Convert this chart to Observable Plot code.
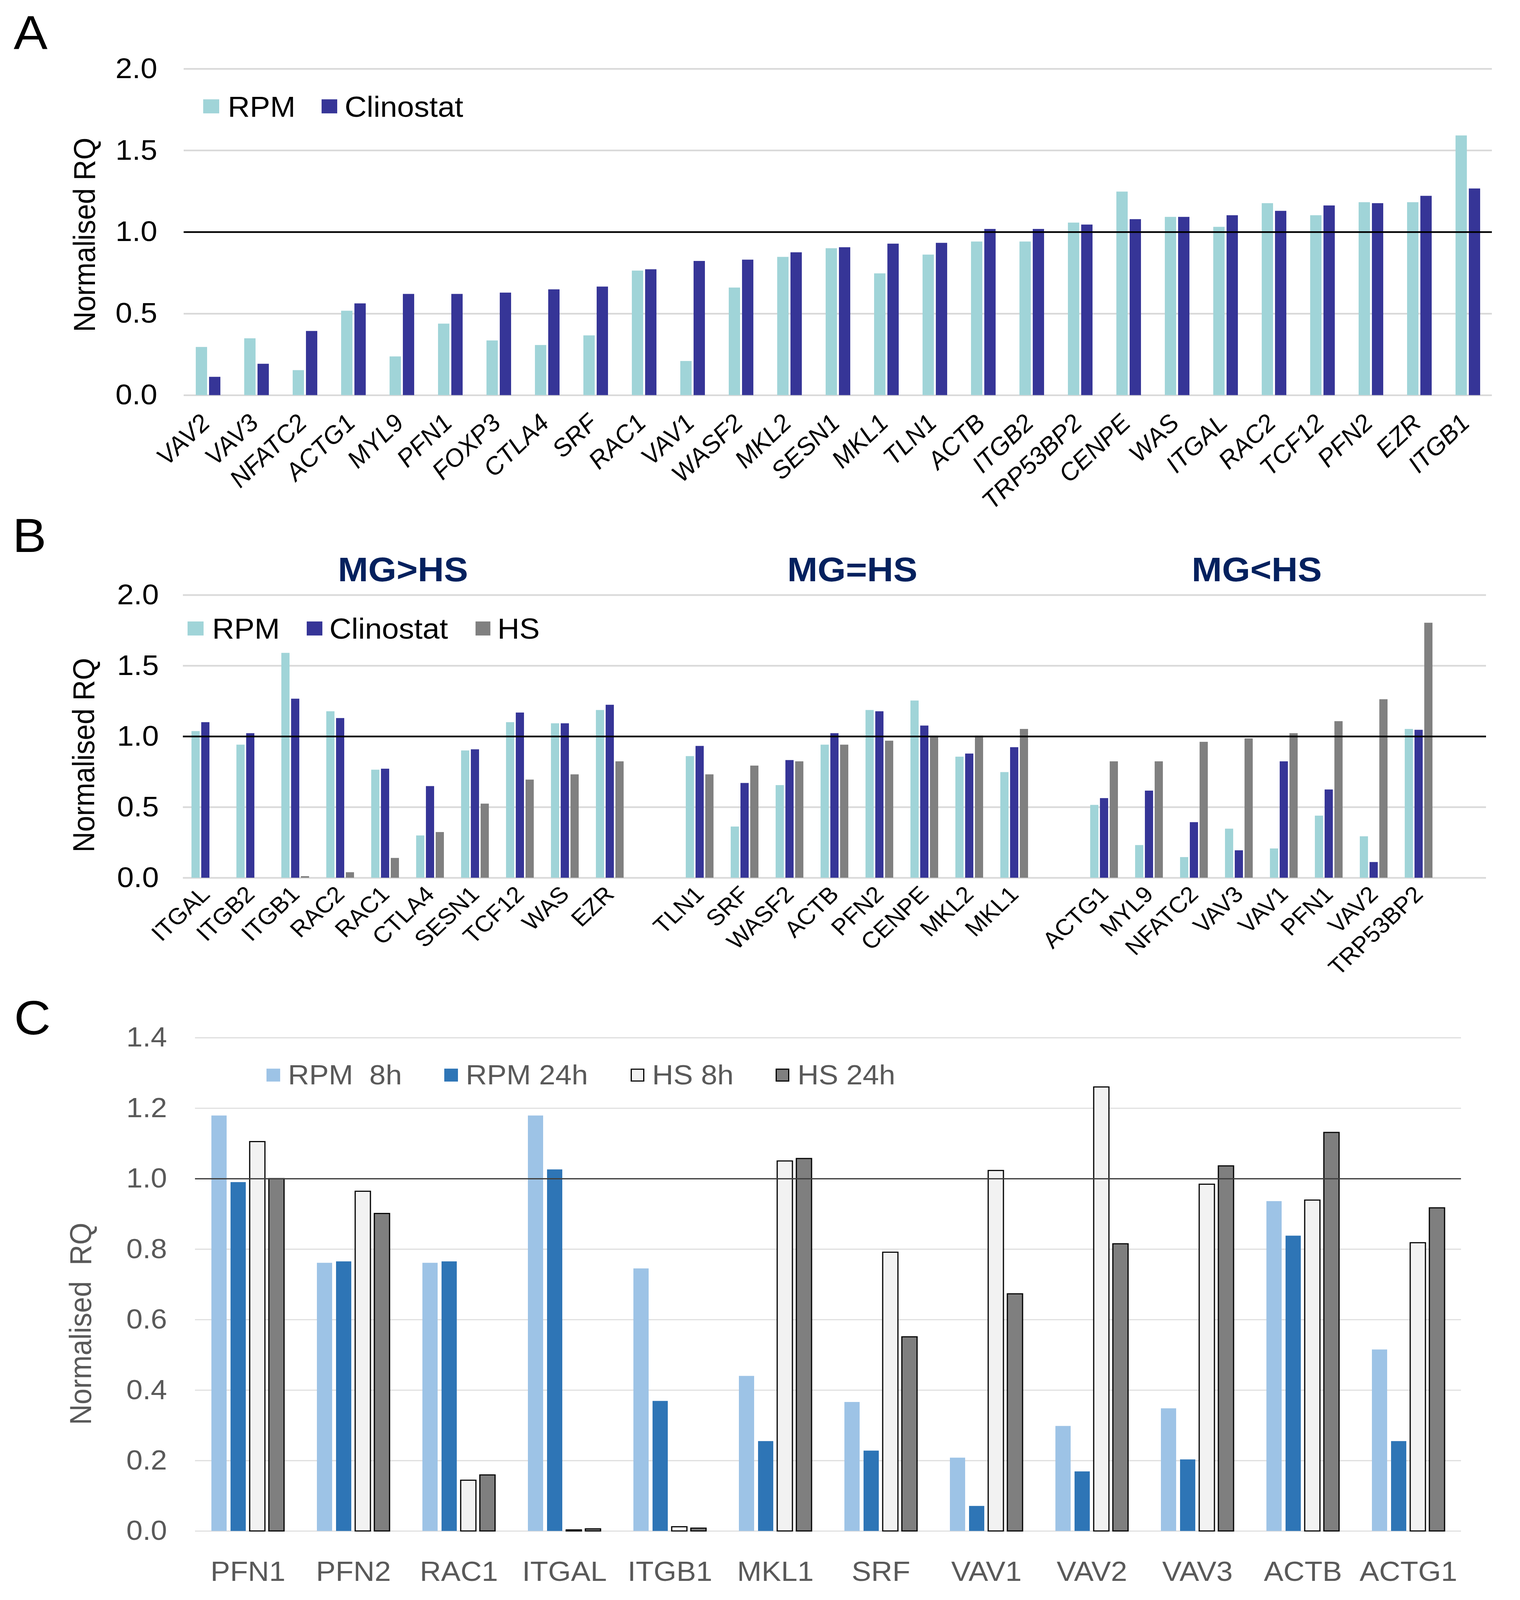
<!DOCTYPE html>
<html><head><meta charset="utf-8">
<script src="https://cdn.jsdelivr.net/npm/d3@7"></script>
<script src="https://cdn.jsdelivr.net/npm/@observablehq/plot@0.6"></script>
<style>
html,body{margin:0;padding:0;background:#fff;overflow:hidden;}
#page{position:relative;width:3890px;height:4333px;overflow:hidden;font-family:"Liberation Sans",Arial,sans-serif;background:#fff;transform-origin:0 0;}
.abs{position:absolute;white-space:nowrap;line-height:1;}
.panel{position:absolute;left:0;}
.sw{position:absolute;box-sizing:border-box;}
.italicfx g[aria-label="fx-axis tick label"]{font-style:italic;}
</style></head><body><div id="page"></div>
<script>
// ---------- Panel A data ----------
const genesA = ["VAV2","VAV3","NFATC2","ACTG1","MYL9","PFN1","FOXP3","CTLA4","SRF","RAC1","VAV1","WASF2","MKL2","SESN1","MKL1","TLN1","ACTB","ITGB2","TRP53BP2","CENPE","WAS","ITGAL","RAC2","TCF12","PFN2","EZR","ITGB1"];
const rpmA   = [0.295,0.348,0.153,0.517,0.237,0.438,0.335,0.307,0.366,0.763,0.209,0.659,0.847,0.900,0.746,0.861,0.941,0.941,1.057,1.247,1.092,1.031,1.176,1.102,1.182,1.182,1.591];
const clinoA = [0.112,0.192,0.393,0.562,0.620,0.620,0.628,0.648,0.665,0.771,0.822,0.830,0.875,0.906,0.928,0.933,1.018,1.018,1.045,1.078,1.092,1.102,1.129,1.162,1.176,1.221,1.266];
const seriesA = ["RPM","Clinostat"];
const colorsA = ["#a0d4d8","#363597"];

// ---------- Panel B data ----------
const groupTitlesB = ["MG>HS","MG=HS","MG<HS"];
const genesB1 = ["ITGAL","ITGB2","ITGB1","RAC2","RAC1","CTLA4","SESN1","TCF12","WAS","EZR"];
const rpmB1   = [1.037,0.941,1.590,1.177,0.764,0.299,0.900,1.100,1.092,1.186];
const clinoB1 = [1.100,1.022,1.266,1.129,0.771,0.648,0.908,1.168,1.092,1.223];
const hsB1    = [null,null,0.011,0.039,0.140,0.323,0.524,0.694,0.731,0.823];
const genesB2 = ["TLN1","SRF","WASF2","ACTB","PFN2","CENPE","MKL2","MKL1"];
const rpmB2   = [0.860,0.362,0.655,0.941,1.186,1.253,0.856,0.747];
const clinoB2 = [0.932,0.670,0.832,1.022,1.177,1.076,0.878,0.923];
const hsB2    = [0.731,0.793,0.823,0.941,0.969,1.005,1.005,1.052];
const genesB3 = ["ACTG1","MYL9","NFATC2","VAV3","VAV1","PFN1","VAV2","TRP53BP2"];
const rpmB3   = [0.515,0.231,0.146,0.347,0.207,0.439,0.293,1.052];
const clinoB3 = [0.563,0.616,0.393,0.194,0.823,0.624,0.111,1.046];
const hsB3    = [0.823,0.823,0.961,0.985,1.022,1.107,1.262,1.803];
const seriesB = ["RPM","Clinostat","HS"];
const colorsB = ["#a0d4d8","#363597","#808080"];

// ---------- Panel C data ----------
const genesC = ["PFN1","PFN2","RAC1","ITGAL","ITGB1","MKL1","SRF","VAV1","VAV2","VAV3","ACTB","ACTG1"];
const rpm8C  = [1.179,0.761,0.761,1.179,0.745,0.440,0.366,0.208,0.298,0.348,0.936,0.515];
const rpm24C = [0.990,0.765,0.765,1.026,0.369,0.255,0.228,0.071,0.169,0.203,0.838,0.255];
const hs8C   = [1.105,0.964,0.144,0.003,0.012,1.050,0.791,1.023,1.260,0.984,0.939,0.818];
const hs24C  = [1.000,0.901,0.159,0.006,0.008,1.057,0.551,0.673,0.815,1.036,1.131,0.917];
const seriesC = ["RPM  8h","RPM 24h","HS 8h","HS 24h"];
const colorsC = ["#9dc3e6","#2e75b6","#f2f2f2","#7f7f7f"];

const yTicksAB = [0,0.5,1.0,1.5,2.0];
const yTicksC = [0,0.2,0.4,0.6,0.8,1.0,1.2,1.4];
const refLine = 1.0;

// ---------- helpers ----------
const FONT = '"Liberation Sans", Arial, sans-serif';
const W = 3890, H = 4333;
const page = document.getElementById("page");
const fmt1 = d3.format(".1f");

// fit the full figure into the visible window height if the window is shorter
const kY = Math.min(1, (window.innerHeight || H) / H);
page.style.transform = `scale(1, ${kY})`;
document.body.style.height = (H * kY) + "px";

function addPanel(svg, top, cls) {
  const d = document.createElement("div");
  d.className = "panel" + (cls ? " " + cls : "");
  d.style.top = top + "px";
  d.appendChild(svg);
  page.appendChild(d);
}
function addText(txt, x, capCenterY, size, style = {}) {
  const d = document.createElement("div");
  d.className = "abs";
  d.textContent = txt;
  d.style.fontSize = size + "px";
  d.style.left = x + "px";
  d.style.top = (capCenterY - 0.4885 * size) + "px";
  Object.assign(d.style, style);
  page.appendChild(d);
  return d;
}
function addVText(txt, cx, cy, size, style = {}) {
  const d = document.createElement("div");
  d.className = "abs";
  d.textContent = txt;
  d.style.fontSize = size + "px";
  d.style.left = cx + "px";
  d.style.top = cy + "px";
  d.style.transform = "translate(-50%,-50%) rotate(-90deg)";
  Object.assign(d.style, style);
  page.appendChild(d);
}
function addSwatch(x, cy, w, h, fill, border) {
  const d = document.createElement("div");
  d.className = "sw";
  d.style.left = x + "px";
  d.style.top = (cy - h / 2) + "px";
  d.style.width = w + "px";
  d.style.height = h + "px";
  d.style.background = fill;
  if (border) d.style.border = border;
  page.appendChild(d);
}

// ---------- Panel A ----------
const rowsA = genesA.flatMap((g, i) => [
  {gene: g, series: seriesA[0], value: rpmA[i]},
  {gene: g, series: seriesA[1], value: clinoA[i]}
]);
const plotA = Plot.plot({
  width: W, height: 1360,
  marginLeft: 468, marginRight: 71, marginTop: 186, marginBottom: 290,
  style: {fontFamily: FONT, color: "#000", background: "transparent", overflow: "visible"},
  fx: {domain: genesA, padding: 0},
  x: {domain: seriesA, paddingInner: 0.16, paddingOuter: 0.866, axis: null},
  y: {domain: [0, 2]},
  color: {domain: seriesA, range: colorsA},
  marks: [
    Plot.gridY(yTicksAB, {stroke: "#d9d9d9", strokeOpacity: 1, strokeWidth: 4.5}),
    Plot.barY(rowsA, {fx: "gene", x: "series", y: "value", fill: "series"}),
    Plot.ruleY([refLine], {stroke: "#000", strokeWidth: 4.5}),
    Plot.axisY(yTicksAB, {tickSize: 0, tickPadding: 68, fontSize: 77, tickFormat: fmt1, label: null}),
    Plot.axisFx({anchor: "bottom", tickSize: 0, tickPadding: 64, tickRotate: -45, fontSize: 66, fontStyle: "italic", dx: -6, label: null})
  ]
});
addPanel(plotA, 0, "italicfx");

// ---------- Panel B ----------
const gapKeys = ["gap1", "gap2", "gap3"];
const groupsB = [
  {genes: genesB1, rpm: rpmB1, clino: clinoB1, hs: hsB1},
  {genes: genesB2, rpm: rpmB2, clino: clinoB2, hs: hsB2},
  {genes: genesB3, rpm: rpmB3, clino: clinoB3, hs: hsB3}
];
const slotsB = [];
const rowsB = [];
const titleRowsB = [];
groupsB.forEach((grp, gi) => {
  grp.genes.forEach((g, i) => {
    slotsB.push(g);
    [grp.rpm[i], grp.clino[i], grp.hs[i]].forEach((v, si) => {
      if (v != null) rowsB.push({gene: g, series: seriesB[si], value: v});
    });
  });
  slotsB.push(gapKeys[gi]);
  titleRowsB.push({title: groupTitlesB[gi], anchor: grp.genes[grp.genes.length / 2]});
});
const plotB = Plot.plot({
  width: W, height: 1340,
  marginLeft: 458, marginRight: 78, marginTop: 251, marginBottom: 323,
  style: {fontFamily: FONT, color: "#000", background: "transparent", overflow: "visible"},
  fx: {domain: slotsB, padding: 0},
  x: {domain: seriesB, paddingInner: 0.156, paddingOuter: 0.8, axis: null},
  y: {domain: [0, 2]},
  color: {domain: seriesB, range: colorsB},
  marks: [
    Plot.gridY(yTicksAB, {stroke: "#d9d9d9", strokeOpacity: 1, strokeWidth: 4.5}),
    Plot.barY(rowsB, {fx: "gene", x: "series", y: "value", fill: "series"}),
    Plot.ruleY(slotsB, {fx: d => d, y: () => refLine, stroke: "#000", strokeWidth: 4.5}),
    Plot.text(titleRowsB, {fx: "anchor", text: "title", frameAnchor: "top-left", textAnchor: "middle", lineAnchor: "middle", dy: -67, dx: -12, fontSize: 93, fontWeight: "bold", fill: "#04215e"}),
    Plot.axisY(yTicksAB, {tickSize: 0, tickPadding: 62, fontSize: 77, tickFormat: fmt1, label: null}),
    Plot.axisFx({anchor: "bottom", tickSize: 0, tickPadding: 34, tickRotate: -45, fontSize: 62, label: null, tickFormat: d => gapKeys.includes(d) ? "" : d})
  ]
});
addPanel(plotB, 1360);

// ---------- Panel C ----------
const rowsC = genesC.flatMap((g, i) => [
  {gene: g, series: seriesC[0], value: rpm8C[i]},
  {gene: g, series: seriesC[1], value: rpm24C[i]},
  {gene: g, series: seriesC[2], value: hs8C[i]},
  {gene: g, series: seriesC[3], value: hs24C[i]}
]);
const plotC = Plot.plot({
  width: W, height: 1633,
  marginLeft: 494, marginRight: 147, marginTop: 110, marginBottom: 187,
  style: {fontFamily: FONT, color: "#595959", background: "transparent", overflow: "visible"},
  fx: {domain: genesC, padding: 0},
  x: {domain: seriesC, paddingInner: 0.203, paddingOuter: 0.85, axis: null},
  y: {domain: [0, 1.4]},
  color: {domain: seriesC, range: colorsC},
  marks: [
    Plot.gridY(yTicksC, {stroke: "#dedede", strokeOpacity: 1, strokeWidth: 3}),
    Plot.barY(rowsC.filter(d => d.series.startsWith("RPM")), {fx: "gene", x: "series", y: "value", fill: "series"}),
    Plot.barY(rowsC.filter(d => d.series.startsWith("HS")), {fx: "gene", x: "series", y: "value", fill: "series", stroke: "#000", strokeWidth: 3}),
    Plot.ruleY([refLine], {stroke: "#404040", strokeWidth: 3.5}),
    Plot.axisY(yTicksC, {tickSize: 0, tickPadding: 72, fontSize: 75, tickFormat: fmt1, label: null, fill: "#595959"}),
    Plot.axisFx({anchor: "bottom", tickSize: 0, tickPadding: 81, fontSize: 75, label: null, fill: "#595959"})
  ]
});
addPanel(plotC, 2700);

// ---------- Panel letters ----------
addText("A", 35, 87, 130);
addText("B", 32, 1449, 130);
addText("C", 36, 2755, 130);

// ---------- Y titles ----------
addVText("Normalised RQ", 216, 636, 77);
addVText("Normalised RQ", 214, 2045, 77);
addVText("Normalised  RQ", 206, 3585, 77, {color: "#595959", whiteSpace: "pre"});

// ---------- Legends ----------
addSwatch(520, 288, 41, 38, colorsA[0]);
addText(seriesA[0], 583, 288, 78);
addSwatch(823, 288, 40, 38, colorsA[1]);
addText(seriesA[1], 882, 288, 78);

addSwatch(480, 1702, 41, 38, colorsB[0]);
addText(seriesB[0], 543, 1702, 78);
addSwatch(785, 1702, 40, 38, colorsB[1]);
addText(seriesB[1], 843, 1702, 78);
addSwatch(1217, 1702, 38, 38, colorsB[2]);
addText(seriesB[2], 1273, 1702, 78);

const legC = [[682, 737], [1137, 1192], [1614, 1669], [1985, 2041]];
seriesC.forEach((s, i) => {
  addSwatch(legC[i][0], 2911, 35, 35, colorsC[i], i >= 2 ? "3px solid #000" : null);
  addText(s, legC[i][1], 2911, 75, {color: "#595959", whiteSpace: "pre"});
});
</script></body></html>
